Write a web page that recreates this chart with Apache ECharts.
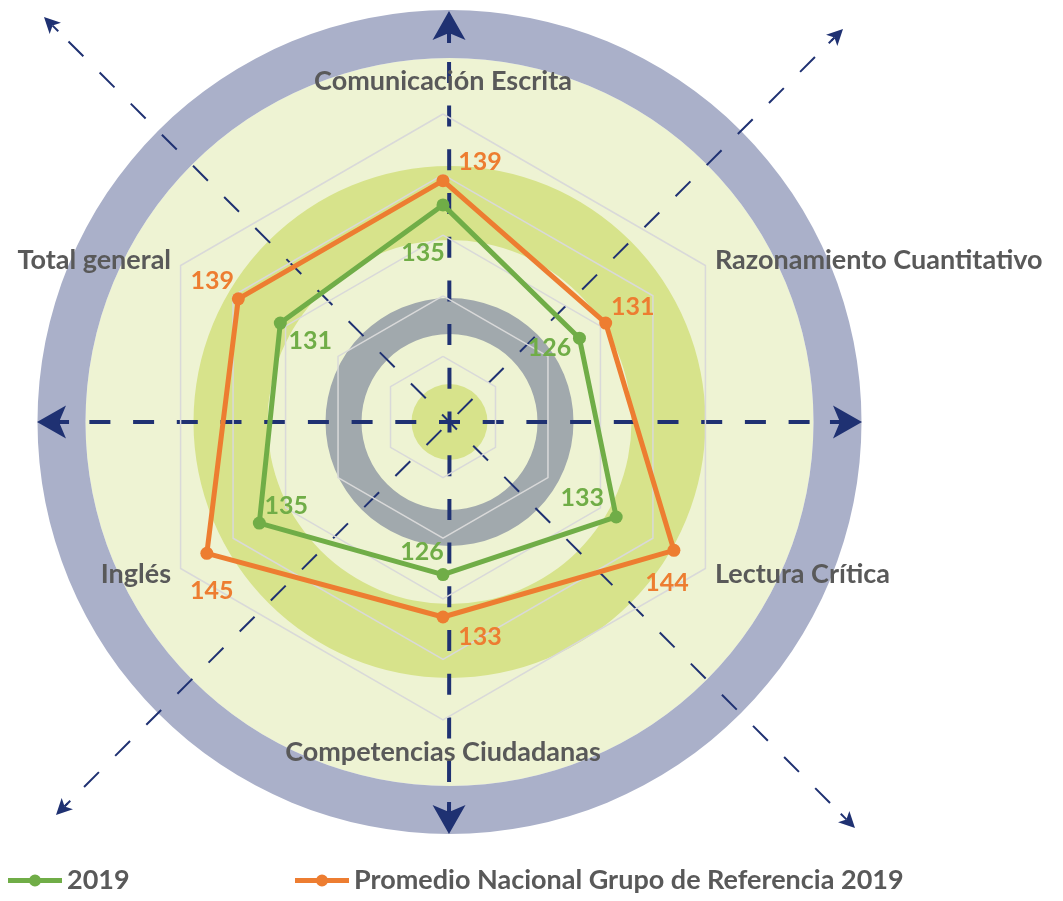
<!DOCTYPE html>
<html>
<head>
<meta charset="utf-8">
<title>Resultados 2019</title>
<script src="https://cdn.jsdelivr.net/npm/echarts@6/dist/echarts.min.js"></script>
<style>
  html, body { margin: 0; padding: 0; background: #ffffff; }
  #chart { width: 1063px; height: 901px; }
</style>
</head>
<body>
<div id="chart"></div>
<script>
// Radar indicators, listed counter-clockwise from the top (ECharts order)
const categories = [
  "Comunicación Escrita",
  "Total general",
  "Inglés",
  "Competencias Ciudadanas",
  "Lectura Crítica",
  "Razonamiento Cuantitativo"
];
const seriesNames = ["2019", "Promedio Nacional Grupo de Referencia 2019"];
const scores2019 = [135, 131, 135, 126, 133, 126];
const scoresPromedio = [139, 139, 145, 133, 144, 131];
const axisMin = 100;
const axisMax = 150;

// Layout and styling
const GREEN = '#70AD47';
const ORANGE = '#ED7D31';
const NAVY = '#1F3172';
const TEXT = '#595959';
const FONT = 'Lato, "Open Sans", sans-serif';
const radarCenter = [443, 417];
const radarRadius = 303;
const bgCenter = [449.5, 422];

// value-label offsets (px) from each vertex, same order as categories
const offsets2019 = [[-20, 48], [30, 18], [27, -17], [-21, -23], [-34, -19], [-30, 10]];
const offsetsPromedio = [[37, -19], [-26, -18], [5, 38], [37, 20], [-7, 33], [27, -16]];

// one invisible polygon per vertex so each value label can sit in its own spot
function vertexLabels(values, color, offsets) {
  return values.map(function (v, k) {
    return {
      value: values.map(function (_, j) { return j === k ? v : '-'; }),
      symbol: 'circle',
      symbolSize: 0,
      lineStyle: { opacity: 0, width: 0 },
      itemStyle: { color: color },
      label: {
        show: true,
        position: 'inside',
        offset: offsets[k],
        color: color,
        fontSize: 25,
        fontWeight: 'bold',
        fontFamily: FONT
      }
    };
  });
}

// background rings and dashed compass arrows
function ring(r0, r, fill) {
  return { type: 'ring', z: -1, silent: true, shape: { cx: bgCenter[0], cy: bgCenter[1], r: r, r0: r0 }, style: { fill: fill } };
}
function disk(r, fill) {
  return { type: 'circle', z: -1, silent: true, shape: { cx: bgCenter[0], cy: bgCenter[1], r: r }, style: { fill: fill } };
}
function arrowArm(tip, big, gapAtCenter) {
  const dx = tip[0] - bgCenter[0], dy = tip[1] - bgCenter[1];
  const len = Math.sqrt(dx * dx + dy * dy);
  const ux = dx / len, uy = dy / len, nx = -uy, ny = ux;
  const L = big ? 29 : 16, hw = big ? 16.5 : 8, notch = 0.76 * L, stem = big ? 10 : 8;
  const lw = big ? 4 : 2;
  const dash = big ? [21, 22.7] : [21, 23];
  const nxp = tip[0] - notch * ux, nyp = tip[1] - notch * uy;
  const els = [];
  els.push({
    type: 'line', z: -1, silent: true,
    shape: { x1: bgCenter[0], y1: bgCenter[1], x2: nxp, y2: nyp },
    style: { stroke: NAVY, lineWidth: lw, lineDash: dash, lineDashOffset: gapAtCenter ? dash[0] + dash[1] / 2 : dash[0] / 2 }
  });
  els.push({
    type: 'line', z: -1, silent: true,
    shape: { x1: nxp - stem * ux, y1: nyp - stem * uy, x2: nxp, y2: nyp },
    style: { stroke: NAVY, lineWidth: lw }
  });
  els.push({
    type: 'polygon', z: -1, silent: true,
    shape: {
      points: [
        [tip[0], tip[1]],
        [tip[0] - L * ux + hw * nx, tip[1] - L * uy + hw * ny],
        [nxp, nyp],
        [tip[0] - L * ux - hw * nx, tip[1] - L * uy - hw * ny]
      ]
    },
    style: { fill: NAVY }
  });
  return els;
}

const graphicElements = [
  disk(364, '#EEF3D3'),
  ring(364, 412, '#AAB0C9'),
  ring(182, 256, '#D7E38B'),
  ring(88, 124, '#A1A9AD'),
  disk(38, '#D7E38B')
].concat(
  arrowArm([449, 11], true, false),
  arrowArm([449, 834], true, false),
  arrowArm([37, 422], true, false),
  arrowArm([862, 422], true, false),
  arrowArm([44, 17], false, false),
  arrowArm([855, 828], false, false),
  arrowArm([843, 29], false, true),
  arrowArm([56, 815], false, true)
);

const legendIcon = 'path://M0,3.5L54,3.5L54,8.5L0,8.5Z M21,6A6,6 0 1,1 33,6A6,6 0 1,1 21,6Z';
const legendText = { color: TEXT, fontSize: 27, fontWeight: 'bold', fontFamily: FONT };

const nameStyle = { color: TEXT, fontSize: 27, fontWeight: 'bold', fontFamily: FONT };

const chart = echarts.init(document.getElementById('chart'), null, { renderer: 'canvas' });
chart.setOption({
  backgroundColor: '#ffffff',
  animation: false,
  graphic: { elements: graphicElements },
  legend: [
    { data: [seriesNames[0]], left: 8, top: 867, padding: 0, icon: legendIcon, itemWidth: 54, itemHeight: 12, textStyle: legendText, selectedMode: false },
    { data: [seriesNames[1]], left: 295, top: 867, padding: 0, icon: legendIcon, itemWidth: 54, itemHeight: 12, textStyle: legendText, selectedMode: false }
  ],
  radar: {
    z: 0,
    center: radarCenter,
    radius: radarRadius,
    startAngle: 90,
    shape: 'polygon',
    splitNumber: 5,
    nameGap: 11,
    indicator: categories.map(function (c) { return { name: c, min: axisMin, max: axisMax }; }),
    axisName: Object.assign({}, nameStyle, {
      // top and bottom names sit a little further out than the side ones
      formatter: function (name) {
        if (name === categories[0]) return '{up|' + name + '}';
        if (name === categories[3]) return '{down|' + name + '}';
        return name;
      },
      rich: {
        up: Object.assign({}, nameStyle, { padding: [0, 0, 8, 0] }),
        down: Object.assign({}, nameStyle, { padding: [8, 0, 0, 0] })
      }
    }),
    splitLine: { lineStyle: { color: '#D9D9D9', width: 1.5 } },
    splitArea: { show: false },
    axisLine: { show: false },
    axisTick: { show: false },
    axisLabel: { show: false }
  },
  series: [{
    type: 'radar',
    silent: true,
    emphasis: { disabled: true },
    symbol: 'circle',
    symbolSize: 13,
    data: [
      {
        name: seriesNames[0],
        value: scores2019,
        itemStyle: { color: GREEN },
        lineStyle: { color: GREEN, width: 5 },
        label: { show: false }
      },
      {
        name: seriesNames[1],
        value: scoresPromedio,
        itemStyle: { color: ORANGE },
        lineStyle: { color: ORANGE, width: 5 },
        label: { show: false }
      }
    ].concat(
      vertexLabels(scores2019, GREEN, offsets2019),
      vertexLabels(scoresPromedio, ORANGE, offsetsPromedio)
    )
  }]
});
</script>
</body>
</html>
